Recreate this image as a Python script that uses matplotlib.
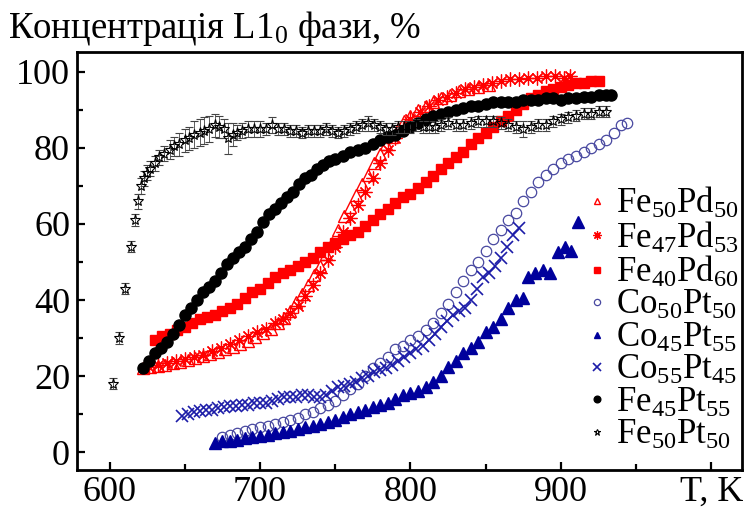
import numpy as np
import matplotlib
matplotlib.use("Agg")
import matplotlib.pyplot as plt
from matplotlib.ticker import MultipleLocator

plt.rcParams['font.family'] = ['Liberation Serif', 'DejaVu Serif']
plt.rcParams['mathtext.fontset'] = 'custom'
plt.rcParams['mathtext.rm'] = 'Liberation Serif'
plt.rcParams['mathtext.it'] = 'Liberation Serif:italic'
plt.rcParams['mathtext.bf'] = 'Liberation Serif:bold'

# ---------------- data ----------------
fe50pd50_T = [622, 627, 632, 637, 642, 647, 652, 657, 662, 667, 672, 677, 682, 687, 692, 697,
              702, 707, 712, 716, 720, 724, 728, 732, 736, 740, 744, 748, 752, 756, 760, 764,
              768, 772, 776, 780, 784, 788, 792, 796, 800, 805, 810, 815, 820, 826, 832, 838,
              845, 852]
fe50pd50_v = [22, 22.3, 22.6, 23, 23.4, 23.8, 24.3, 24.8, 25.2, 25.8, 26.3, 27, 27.7, 28.5, 29.3, 30.3,
              31.3, 32.5, 34, 35.3, 37, 39.5, 41.5, 44, 46.5, 49, 52, 55, 58.5, 62, 64.5, 67.5,
              70.5, 73, 76, 78.5, 81, 83, 85, 87, 88.5, 90, 91, 92, 93, 94, 95, 95.5,
              96, 96.5]

fe47pd53_T = [626, 632, 638, 644, 650, 656, 662, 668, 674, 680, 686, 692, 698, 704, 710, 715,
              720, 725, 730, 735, 740, 745, 750, 755, 760, 765, 770, 775, 780, 785, 790, 795,
              800, 806, 812, 818, 824, 830, 836, 842, 848, 854, 860, 866, 872, 878, 884, 890,
              896, 902, 906]
fe47pd53_v = [22.5, 23, 23.5, 24, 24.5, 25, 25.5, 26.5, 27.5, 28.5, 29.5, 30.5, 31.5, 32.5, 34, 35,
              36.5, 38.5, 41, 44, 47, 50.5, 54, 58, 61.5, 65, 68.5, 72, 76, 79.5, 82.5, 85,
              87.5, 89.5, 91, 92.5, 93.5, 94.5, 95.5, 96, 96.5, 97, 97.5, 98, 98, 98.5, 98.5, 99,
              99, 98.5, 99]

fe40pd60_T = [630, 635, 640, 645, 650, 655, 660, 665, 670, 675, 680, 685, 690, 695, 700, 705,
              710, 715, 720, 725, 730, 735, 740, 745, 750, 755, 760, 765, 770, 775, 780, 785,
              790, 795, 800, 805, 810, 815, 820, 825, 830, 835, 840, 845, 850, 855, 860, 865,
              870, 875, 880, 885, 890, 895, 900, 905, 910, 915, 920, 925]
fe40pd60_v = [29.5, 30.5, 31, 32, 33, 34, 35, 35.5, 36, 37, 38, 39, 40.5, 42, 43, 44.5,
              46, 47, 48, 49, 50, 51, 52.5, 54, 55, 56, 57, 58, 59.5, 61, 62.5, 64,
              65.5, 67, 68, 69.5, 71, 72.5, 74.5, 76, 77.5, 79, 81, 82.5, 84, 85.5, 87, 88.5,
              90, 91.5, 93, 94, 95, 95.5, 96, 96.5, 97, 97, 97.5, 97.5]

co50pt50_T = [675, 680, 685, 690, 695, 700, 705, 710, 715, 720, 725, 730, 735, 740, 745, 750,
              755, 760, 765, 770, 775, 780, 785, 790, 795, 800, 805, 810, 815, 820, 825, 830,
              835, 840, 845, 850, 855, 860, 865, 870, 875, 880, 885, 890, 895, 900, 905, 910,
              915, 920, 925, 930, 935, 940, 944]
co50pt50_v = [4, 4.5, 5, 5.5, 6, 6.5, 7, 7.5, 8, 8.5, 9, 10, 10.5, 11.5, 12.5, 13.5,
              15, 16.5, 18, 20, 22, 23.5, 25, 27, 28, 29.5, 30.5, 32, 34, 36.5, 39, 42,
              45, 48, 50, 53, 56, 58.5, 61, 63, 66, 68.5, 71, 73, 74.5, 76, 77, 78,
              79, 80, 81, 82, 84, 86, 86.5]

co45pt55_T = [670, 675, 680, 685, 690, 695, 700, 705, 710, 715, 720, 725, 730, 735, 740, 745,
              750, 755, 760, 765, 770, 775, 780, 785, 790, 795, 800, 805, 810, 815, 820, 825,
              830, 835, 840, 845, 850, 855, 860, 865, 870, 875, 878, 883, 888, 893, 898, 903,
              907, 911]
co45pt55_v = [2.5, 2.8, 3, 3.3, 3.7, 4, 4.3, 4.6, 5, 5.2, 5.5, 6, 6.5, 7, 7.5, 8,
              8.5, 9.2, 10, 10.5, 11, 11.8, 12.5, 13, 14, 15, 15.5, 16, 17, 18.5, 20, 22.5,
              24, 26, 27.5, 29, 31.5, 33, 35, 38, 40, 40.5, 46, 47, 48, 47, 52.5, 54,
              53, 60.5]

co55pt45_T = [648, 652, 656, 660, 664, 668, 672, 676, 680, 684, 688, 692, 696, 700, 704, 708,
              712, 716, 720, 724, 728, 732, 736, 740, 744, 748, 752, 756, 760, 764, 768, 772,
              776, 780, 784, 788, 792, 796, 800, 804, 808, 812, 816, 820, 824, 828, 832, 836,
              840, 844, 848, 852, 856, 860, 864, 868, 872]
co55pt45_v = [9.5, 10, 10.5, 10.8, 11, 11.2, 11.5, 11.8, 12, 12.2, 12.5, 12.5, 12.8, 13, 13, 13.5,
              14, 14.5, 14.5, 14.5, 15, 15, 14.5, 14.5, 15, 16, 17, 17.5, 18, 18.5, 19.5, 20,
              21, 21.5, 22, 23, 24, 25, 26, 27, 28, 29.5, 31, 33, 34.5, 36, 37, 38,
              40, 43, 46, 47, 49, 51, 54, 57, 59]

fe45pt55_T = [622, 626, 630, 634, 638, 642, 646, 650, 654, 658, 662, 666, 670, 674, 678, 682,
              686, 690, 694, 698, 702, 706, 710, 714, 718, 722, 726, 730, 734, 738, 742, 746,
              750, 755, 760, 765, 770, 775, 780, 785, 790, 795, 800, 805, 810, 815, 820, 825,
              830, 835, 840, 845, 850, 855, 860, 865, 870, 875, 880, 885, 890, 895, 900, 905,
              910, 915, 920, 925, 930, 933]
fe45pt55_v = [22, 24, 26, 27.5, 29, 31, 33.5, 36, 38, 40, 42, 43.5, 45, 47, 49.5, 51,
              52.5, 54, 56, 58, 60.5, 62.5, 64, 65.5, 67, 68.5, 70.5, 72, 73, 74.5, 75.5, 76.5,
              77, 78, 79, 79.5, 80, 81, 82, 83, 83.5, 84.5, 85.5, 86.5, 87.5, 88.5, 89, 89.5,
              90, 90.5, 91, 91, 91.5, 92, 92, 92, 92, 92.5, 92.5, 92.5, 93, 93, 92.5, 93,
              93, 93.5, 93.5, 94, 94, 94]

fe50pt50_T = [602, 606, 610, 614, 617, 619, 621, 623, 625, 627, 630, 633, 636, 640, 643, 646,
              650, 653, 656, 660, 663, 666, 670, 673, 676, 679, 682, 685, 688, 692, 696, 700,
              704, 708, 712, 716, 720, 724, 728, 732, 736, 740, 744, 748, 752, 756, 760, 764,
              768, 772, 776, 780, 784, 788, 792, 796, 800, 804, 808, 812, 816, 820, 825, 830,
              835, 840, 845, 850, 855, 860, 865, 870, 875, 880, 885, 890, 895, 900, 905, 910,
              915, 920, 925, 930]
fe50pt50_v = [18, 30, 43, 54, 61, 66, 70, 72, 73.5, 74.5, 76, 77.5, 78.5, 79.5, 80.5, 81,
              82, 82.5, 83.5, 84, 84.5, 85, 86, 85.5, 85, 82.5, 83.5, 84, 84.5, 85, 85, 85,
              85, 86, 85, 85, 84.5, 84.5, 84, 84.5, 84.5, 84.5, 85, 84.5, 84, 84.5, 85, 85.5,
              86, 86.5, 86, 85.5, 85, 85, 85.5, 85.5, 85.5, 86, 85.5, 85.5, 85.5, 86, 86.5, 86,
              86, 86.5, 87, 87, 87, 86.5, 86, 85.5, 85, 85.5, 86, 86, 87, 87.5, 88, 88.5,
              89, 89, 89.5, 89.5]
fe50pt50_err = [1.5, 1.5, 1.5, 1.5, 1.5, 2, 2, 2, 2, 2, 2, 2, 2, 2.5, 2.5, 3,
                3, 3, 3.5, 3.5, 3.5, 3.5, 3, 3, 2.5, 4, 3, 2, 2, 2, 2, 2,
                1.5, 2, 1.5, 1.5, 1.5, 1.5, 1.5, 1.5, 1.5, 1.5, 1.5, 1.5, 1.5, 1.5, 1.5, 1.5,
                1.5, 2, 1.5, 1.5, 1.5, 1.5, 1.5, 1.5, 1.5, 1.5, 1.5, 1.5, 1.5, 1.5, 1.5, 1.5,
                1.5, 1.5, 1.5, 1.5, 1.5, 1.5, 1.5, 1.5, 2, 1.5, 1.5, 1.5, 1.5, 1.5, 1.5, 1.5,
                1.5, 1.5, 1.5, 1.5]

labels = [r'$\mathrm{Fe_{50}Pd_{50}}$', r'$\mathrm{Fe_{47}Pd_{53}}$', r'$\mathrm{Fe_{40}Pd_{60}}$',
          r'$\mathrm{Co_{50}Pt_{50}}$', r'$\mathrm{Co_{45}Pt_{55}}$', r'$\mathrm{Co_{55}Pt_{45}}$',
          r'$\mathrm{Fe_{45}Pt_{55}}$', r'$\mathrm{Fe_{50}Pt_{50}}$']
x_ticks = [600, 700, 800, 900, 1000]
x_ticklabels = ['600', '700', '800', '900', 'T, K']
y_ticks = [0, 20, 40, 60, 80, 100]
title = r'Концентрація L1$_0$ фази, %'

# ---------------- plot ----------------
RED = '#ff0000'
NAVY = '#00009c'
BLUE2 = '#1c1ca8'
LBLUE = '#4848a0'

fig = plt.figure(figsize=(7.47, 5.13), dpi=100)
ax = fig.add_axes([77/747, 43/513, 665/747, 418.3/513])

h = []
h.append(ax.plot(fe50pd50_T, fe50pd50_v, ls='none', marker='^', ms=8, mfc='none', mec=RED, mew=1.0)[0])
h.append(ax.plot(fe47pd53_T, fe47pd53_v, ls='none', marker=(8, 2, 0), ms=10, mec=RED, color=RED, mew=0.9)[0])
h.append(ax.plot(fe40pd60_T, fe40pd60_v, ls='none', marker='s', ms=7, mfc=RED, mec=RED)[0])
h.append(ax.plot(co50pt50_T, co50pt50_v, ls='none', marker='o', ms=7.5, mfc='none', mec=LBLUE, mew=0.9)[0])
h.append(ax.plot(co45pt55_T, co45pt55_v, ls='none', marker='^', ms=8, mfc=NAVY, mec=NAVY)[0])
h.append(ax.plot(co55pt45_T, co55pt45_v, ls='none', marker='x', ms=9, mec=BLUE2, mew=1.2)[0])
h.append(ax.plot(fe45pt55_T, fe45pt55_v, ls='none', marker='o', ms=8, mfc='black', mec='black')[0])
eb = ax.errorbar(fe50pt50_T, fe50pt50_v, yerr=fe50pt50_err, fmt='*', ms=8, mfc='none', mec='black',
                 mew=0.8, ecolor='#444444', elinewidth=0.6, capsize=3, capthick=0.6)
h.append(eb[0])

ax.set_xlim(578.4, 1020.3)
ax.set_ylim(-4.7, 105.3)
ax.set_xticks(x_ticks)
ax.set_xticklabels(x_ticklabels)
ax.set_yticks(y_ticks)
ax.xaxis.set_minor_locator(MultipleLocator(50))
ax.yaxis.set_minor_locator(MultipleLocator(10))
ax.tick_params(which='both', direction='in', top=False, right=False, width=1.6, labelsize=26)
ax.tick_params(which='major', length=6)
ax.tick_params(which='minor', length=4)
ax.tick_params(axis='x', pad=4)
ax.tick_params(axis='y', pad=5)
for s in ax.spines.values():
    s.set_linewidth(2.0)

fig.text(8/747, 1 - 38/513, title, fontsize=26.5, ha='left', va='baseline')

leg = ax.legend(h, labels, loc='upper left', bbox_to_anchor=((588 - 77) / 665, (470 - 186) / 418.3),
                frameon=False, fontsize=25, handlelength=0.5, handletextpad=0.3, labelspacing=-0.02,
                borderaxespad=0.0, borderpad=0.0, markerscale=0.6)

fig.savefig('out.png', dpi=100)
